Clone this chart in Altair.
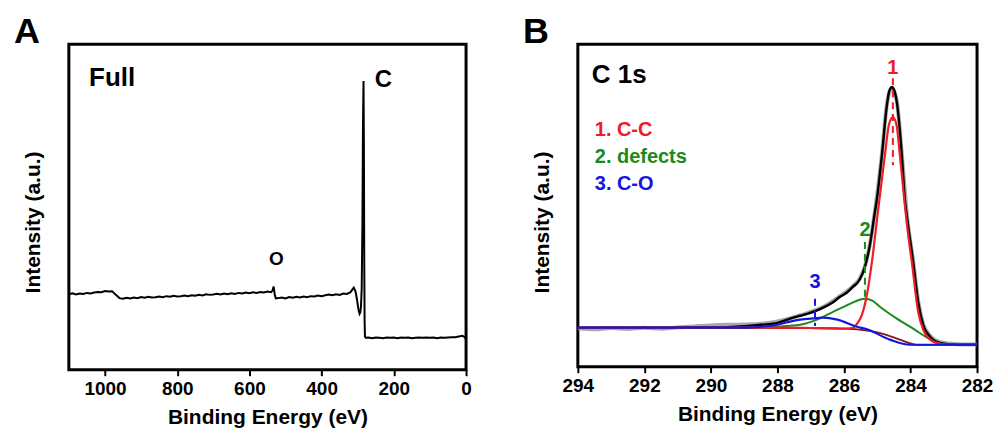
import altair as alt
import pandas as pd

FONT = "Liberation Sans"

# ---------------- Panel A : survey spectrum ----------------
survey_energy = [1100, 1090, 1080, 1070, 1060, 1050, 1040, 1030, 1020, 1010, 1000, 990, 980, 970, 960,
                 950, 940, 930, 920, 910, 900, 890, 880, 870, 860, 850, 840, 830, 820, 810, 800, 790,
                 780, 770, 760, 750, 740, 730, 720, 710, 700, 690, 680, 670, 660, 650, 640, 630, 620,
                 610, 600, 590, 580, 570, 560, 550, 540, 536, 533, 530, 527, 520, 510, 500, 490, 480,
                 470, 460, 450, 440, 430, 420, 410, 400, 390, 380, 370, 360, 350, 340, 330, 320, 315,
                 311, 306, 302, 298, 295, 293, 291, 289, 287, 285.5, 284, 283, 282, 281, 280, 278,
                 270, 260, 250, 240, 230, 220, 210, 200, 190, 180, 170, 160, 150, 140, 130, 120, 110,
                 100, 90, 80, 70, 60, 50, 40, 30, 20, 10, 5, 0]
survey_intensity = [23.2, 23.5, 23.1, 23.4, 23.3, 23.6, 23.4, 23.7, 23.9, 23.8, 24.2, 24.0, 24.1, 23.0, 22.0,
                    21.8, 22.1, 21.9, 22.2, 22.0, 22.3, 22.1, 22.4, 22.2, 22.3, 22.5, 22.3, 22.6, 22.4, 22.7, 22.5, 22.6,
                    22.8, 22.6, 22.9, 22.7, 23.0, 22.8, 23.2, 23.0, 23.1, 23.3, 23.1, 23.4, 23.2, 23.5, 23.3, 23.6, 23.4,
                    23.7, 23.5, 23.8, 23.6, 23.9, 23.7, 24.0, 23.8, 24.3, 25.6, 23.2, 21.9, 22.0, 22.2, 21.9, 22.3, 22.1,
                    22.4, 22.2, 22.5, 22.3, 22.6, 22.5, 22.8, 22.6, 22.9, 23.1, 22.9, 23.2, 23.0, 23.4, 23.3, 23.8, 24.6,
                    25.2, 24.0, 21.5, 18.5, 17.2, 17.6, 19.5, 25.0, 45.0, 75.0, 88.7, 70.0, 35.0, 15.0, 10.2, 9.8,
                    9.9, 9.7, 9.9, 9.8, 9.7, 9.9, 9.8, 9.9, 9.7, 9.9, 9.8, 9.9, 9.7, 9.8, 9.9, 9.8, 9.9,
                    9.8, 9.9, 9.7, 9.9, 9.8, 9.9, 10.0, 10.0, 10.2, 10.4, 10.1, 9.5]

annotA_text = ["Full", "C", "O"]
annotA_x = [1044, 253, 546]
annotA_y = [89.6, 89.0, 34.0]
annotA_size = [26, 24, 19]

# ---------------- Panel B : C 1s high-resolution ----------------
raw_e = [294, 293.5, 293, 292.5, 292, 291.5, 291, 290.5, 290, 289.5, 289, 288.5, 288, 287.5, 287.11,
         286.63, 286.12, 285.73, 285.52, 285.37, 285.22, 285.07, 284.86, 284.71, 284.56, 284.41, 284.26,
         284.10, 283.92, 283.77, 283.62, 283.41, 283.11, 282.6, 282]
raw_i = [11.9, 11.6, 12.0, 11.7, 12.1, 11.8, 12.2, 12.5, 12.8, 13.0, 13.1, 13.3, 14.0, 15.4, 16.6,
         18.5, 21.9, 25.0, 27.4, 31.2, 38.0, 48.2, 65.8, 81.3, 86.5, 82.2, 65.8,
         46.3, 32.8, 20.4, 13.3, 9.6, 7.6, 7.0, 6.9]

fit_e = [294, 292, 290, 289, 288.5, 288.0, 287.62, 287.32, 287.11, 286.81, 286.63, 286.33, 286.12,
         285.91, 285.73, 285.61, 285.52, 285.37, 285.22, 285.07, 285.01, 284.86, 284.71, 284.64, 284.56,
         284.48, 284.41, 284.26, 284.17, 284.10, 283.92, 283.77, 283.62, 283.41, 283.11, 282.6, 282]
fit_i = [12.1, 12.1, 12.2, 12.6, 13.0, 13.6, 14.9, 15.8, 16.4, 17.5, 18.3, 20.0, 21.7,
         23.0, 24.8, 25.9, 27.2, 31.0, 37.8, 48.0, 52.0, 65.6, 81.1, 85.5, 86.7,
         85.5, 82.0, 65.6, 52.0, 46.0, 32.5, 20.1, 13.0, 9.3, 7.4, 6.8, 6.8]

bg_e = [294, 287, 286, 285.61, 285.2, 284.83, 284.32, 283.80, 282]
bg_i = [12.1, 12.0, 11.8, 11.6, 11.0, 10.2, 8.4, 6.8, 6.8]

cc_e = [294, 288, 287, 286.5, 286.0, 285.75, 285.61, 285.46, 285.31, 285.16, 284.98, 284.77, 284.65,
        284.53, 284.42, 284.32, 284.17, 284.02, 283.96, 283.77, 283.62, 283.41, 283.11, 282.8, 282]
cc_i = [12.1, 12.1, 12.0, 11.9, 11.8, 12.0, 13.3, 16.1, 22.3, 32.5, 48.0, 65.6, 75.0,
        77.4, 75.0, 65.6, 50.2, 37.0, 32.5, 17.0, 11.5, 8.4, 7.1, 6.8, 6.8]

def_e = [294, 289, 288.5, 288.0, 287.62, 287.32, 286.81, 286.33, 285.82, 285.55, 285.37, 285.15,
         284.92, 284.41, 283.92, 283.50, 283.20, 282.81, 282]
def_i = [12.1, 12.1, 12.2, 12.4, 12.7, 13.0, 14.6, 17.0, 19.5, 20.7, 21.1, 20.5,
         18.6, 14.9, 11.8, 9.0, 7.4, 6.8, 6.8]

co_e = [294, 289, 288.5, 288.0, 287.62, 287.32, 286.9, 286.63, 286.2, 285.61, 285.31, 284.62, 284.02, 282]
co_i = [12.1, 12.1, 12.4, 13.0, 14.0, 14.6, 15.0, 15.2, 14.6, 12.4, 11.6, 8.4, 6.8, 6.8]

RED, GREEN, BLUE, BGC = "#EE1C24", "#1B8A1B", "#1515E0", "#8B1A1A"

legend_text = ["C 1s", "1. C-C", "2. defects", "3. C-O"]
legend_x = [293.58, 293.49, 293.49, 293.49]
legend_y = [90.4, 73.4, 65.0, 56.7]
legend_size = [26, 20, 20, 20]
legend_color = ["black", RED, GREEN, BLUE]

peak_label = ["1", "2", "3"]
peak_pos = [284.53, 285.37, 286.87]
peak_label_y = [92.6, 42.4, 26.3]
peak_top = [89.5, 38.7, 21.1]
peak_bottom = [62.5, 20.5, 12.6]
peak_color = [RED, GREEN, BLUE]


def axis_x(values, major, title):
    return alt.Axis(
        title=title, values=values, format="d",
        labelExpr=f"datum.value % {major} === 0 ? datum.label : ''",
        tickSize={"condition": {"test": f"datum.value % {major} === 0", "value": 6}, "value": 3},
        labelOverlap=False, labelFlush=False, labelPadding=4, titlePadding=8,
    )


def axis_y():
    return alt.Axis(title="Intensity (a.u.)", labels=False, ticks=False, domain=False,
                    titlePadding=25, titleY=178)


# ---------- Panel A chart ----------
dfA = pd.DataFrame({"energy": survey_energy, "intensity": survey_intensity})
xA = alt.X("energy:Q", scale=alt.Scale(domain=[0, 1100], reverse=True, nice=False, zero=False),
           axis=axis_x(list(range(0, 1101, 100)), 200, "Binding Energy (eV)"))
yA = alt.Y("intensity:Q", scale=alt.Scale(domain=[0, 100], nice=False, zero=False), axis=axis_y())

lineA = alt.Chart(dfA).mark_line(color="black", strokeWidth=2).encode(x=xA, y=yA)
dfAnnA = pd.DataFrame({"t": annotA_text, "x": annotA_x, "y": annotA_y, "s": annotA_size})
textA = alt.Chart(dfAnnA).mark_text(font=FONT, fontWeight="bold", align="left", baseline="middle",
                                    color="black").encode(
    x="x:Q", y="y:Q", text="t:N", size=alt.Size("s:Q", scale=None))
letterA = alt.Chart(pd.DataFrame({"t": ["A"]})).mark_text(
    font=FONT, fontWeight="bold", fontSize=36, align="center", baseline="middle", color="black"
).encode(x=alt.value(-42), y=alt.value(-12), text="t:N")

panelA = alt.layer(lineA, textA, letterA).properties(width=398, height=326)

# ---------- Panel B chart ----------
xB = alt.X("energy:Q", scale=alt.Scale(domain=[282, 294], reverse=True, nice=False, zero=False),
           axis=axis_x(list(range(282, 295)), 2, "Binding Energy (eV)"))
yB = alt.Y("intensity:Q", scale=alt.Scale(domain=[0, 100], nice=False, zero=False), axis=axis_y())


def curve(e, i, color, width, opacity=1.0):
    return alt.Chart(pd.DataFrame({"energy": e, "intensity": i})).mark_line(
        color=color, strokeWidth=width, opacity=opacity, interpolate="monotone"
    ).encode(x=xB, y=yB)


rawB = curve(raw_e, raw_i, "#8c8c8c", 4, 0.75)
fitB = curve(fit_e, fit_i, "black", 2.4)
bgB = curve(bg_e, bg_i, BGC, 1.8)
defB = curve(def_e, def_i, GREEN, 2)
ccB = curve(cc_e, cc_i, RED, 2.2)
coB = curve(co_e, co_i, BLUE, 2.2)

dfPeaks = pd.DataFrame({"t": peak_label, "x": peak_pos, "ly": peak_label_y, "y1": peak_top,
                        "y2": peak_bottom, "c": peak_color})
dashB = alt.Chart(dfPeaks).mark_rule(strokeWidth=2, strokeDash=[7, 5]).encode(
    x="x:Q", y="y1:Q", y2="y2:Q", color=alt.Color("c:N", scale=None))
peakTxt = alt.Chart(dfPeaks).mark_text(font=FONT, fontWeight="bold", fontSize=20, align="center",
                                       baseline="middle").encode(
    x="x:Q", y="ly:Q", text="t:N", color=alt.Color("c:N", scale=None))

dfLeg = pd.DataFrame({"t": legend_text, "x": legend_x, "y": legend_y, "s": legend_size, "c": legend_color})
legB = alt.Chart(dfLeg).mark_text(font=FONT, fontWeight="bold", align="left", baseline="middle").encode(
    x="x:Q", y="y:Q", text="t:N", size=alt.Size("s:Q", scale=None), color=alt.Color("c:N", scale=None))
letterB = alt.Chart(pd.DataFrame({"t": ["B"]})).mark_text(
    font=FONT, fontWeight="bold", fontSize=36, align="center", baseline="middle", color="black"
).encode(x=alt.value(-42), y=alt.value(-12), text="t:N")

panelB = alt.layer(rawB, fitB, bgB, defB, ccB, coB, dashB, peakTxt, legB, letterB).properties(
    width=400, height=323)

chart = alt.hconcat(panelA, panelB, spacing=112, bounds="flush").properties(
    padding={"left": 12, "top": 12, "right": 0, "bottom": 0}, background="white"
).configure_view(stroke="black", strokeWidth=3).configure_axis(
    labelFont=FONT, titleFont=FONT, labelFontSize=19, titleFontSize=21,
    labelFontWeight="bold", titleFontWeight="bold", labelColor="black", titleColor="black",
    tickColor="black", tickWidth=2, domain=False, grid=False,
)

chart.save("out.html", embed_options={"renderer": "svg", "actions": False})
